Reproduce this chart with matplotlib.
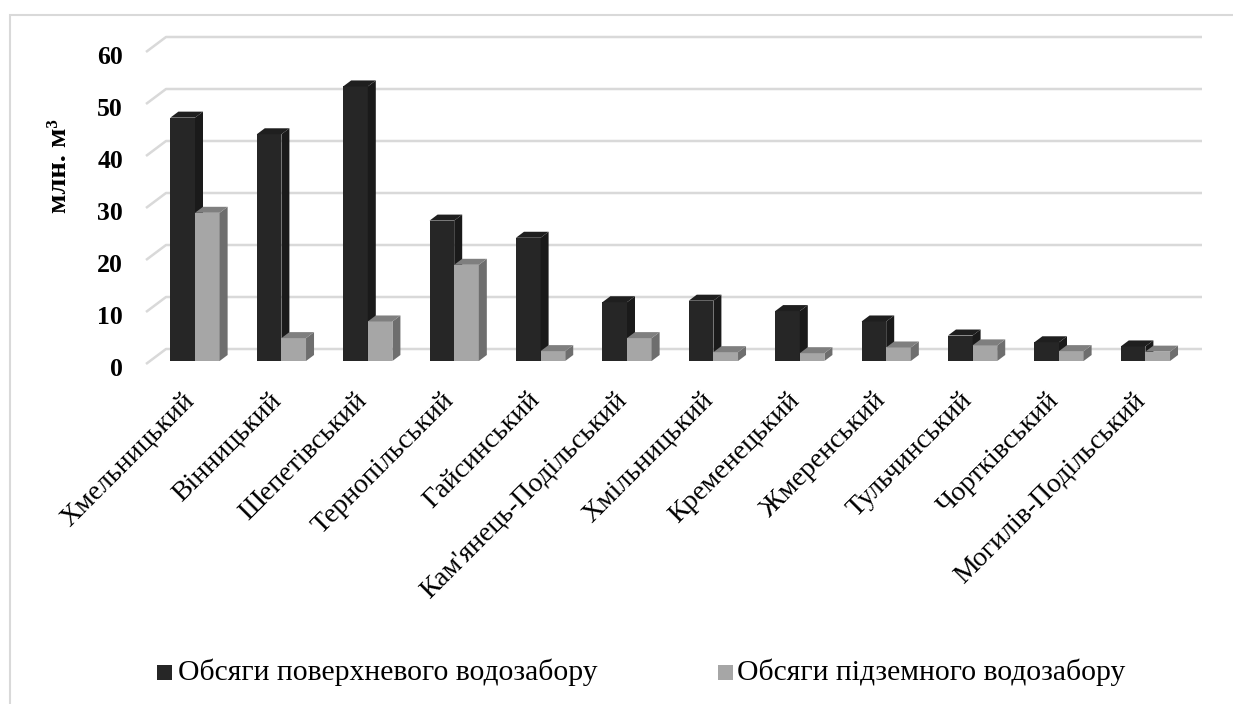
import matplotlib
matplotlib.use("Agg")
import matplotlib.pyplot as plt
from matplotlib.patches import Polygon, Rectangle

plt.rcParams['font.family'] = ['Liberation Serif', 'DejaVu Serif']

categories = ["Хмельницький", "Вінницький", "Шепетівський", "Тернопільський",
              "Гайсинський", "Кам'янець-Подільський", "Хмільницький", "Кременецький",
              "Жмеренський", "Тульчинський", "Чортківський", "Могилів-Подільський"]
surface = [46.8, 43.6, 52.8, 27.0, 23.7, 11.3, 11.6, 9.6, 7.6, 4.9, 3.6, 2.8]
ground = [28.5, 4.4, 7.6, 18.5, 1.9, 4.4, 1.7, 1.5, 2.6, 3.0, 1.9, 1.8]
series_names = ["Обсяги поверхневого водозабору", "Обсяги підземного водозабору"]
yticks = [0, 10, 20, 30, 40, 50, 60]
y_label = "млн. м³"

W, H = 1233, 704
fig = plt.figure(figsize=(W / 100, H / 100), dpi=100)

# pixel geometry
ax_l, ax_r, ax_t, ax_b = 147, 1205, 30, 380
cx0, cstep = 195, 86.4          # category centre pixel and spacing
zero_px, unit_px = 361, 5.2     # value 0 pixel and px per unit
ax = fig.add_axes([ax_l / W, 1 - ax_b / H, (ax_r - ax_l) / W, (ax_b - ax_t) / H])
ax.set_xlim((ax_l - cx0) / cstep, (ax_r - cx0) / cstep)
ax.set_ylim(-(ax_b - zero_px) / unit_px, (zero_px - ax_t) / unit_px)
ax.axis('off')

px = 1 / cstep
py = 1 / unit_px

# gridlines with 3D wall offset
grid_col = '#d9d9d9'
back_off = 12 * py
gdx, gdy = 20 * px, 15 * py
x_front = (146 - cx0) * px
x_end = (1202 - cx0) * px
for v in yticks:
    yb = v + back_off
    ax.plot([x_front, x_front + gdx, x_end], [yb - gdy, yb, yb], color=grid_col,
            lw=1.8, clip_on=False, zorder=1, solid_capstyle='butt')
    ax.text((123 - cx0) * px, v - 1.7, str(v), ha='right', va='center',
            fontsize=18.5, fontweight='bold', color='#000000')

w = 0.285
ddx, ddy = 8 * px, 6 * py
styles = [('#262626', '#1a1a1a', '#1f1f1f'), ('#a6a6a6', '#6e6e6e', '#7f7f7f')]
for s, (vals, off) in enumerate([(surface, -w), (ground, 0.0)]):
    front, side, top = styles[s]
    xs = [i + off for i in range(len(vals))]
    ax.bar(xs, vals, width=w, align='edge', color=front, edgecolor='none', zorder=3 + s)
    for x0, h in zip(xs, vals):
        x1 = x0 + w
        ax.add_patch(Polygon([(x1, 0), (x1 + ddx, ddy), (x1 + ddx, h + ddy), (x1, h)],
                             closed=True, facecolor=side, edgecolor='none', zorder=3 + s))
        ax.add_patch(Polygon([(x0, h), (x0 + ddx, h + ddy), (x1 + ddx, h + ddy), (x1, h)],
                             closed=True, facecolor=top, edgecolor='none', zorder=3 + s))

# category labels
for i, name in enumerate(categories):
    ax.text(i - 13 * px, -5.1, name, rotation=45, rotation_mode='anchor',
            ha='right', va='top', fontsize=20, color='#000000', clip_on=False)

# y label
fig.text(60 / W, 1 - 166 / H, y_label, rotation=90, ha='center', va='center',
         fontsize=20.5, fontweight='bold')

# legend
leg_cols = ['#262626', '#a6a6a6']
leg_sq_x = [157, 718]
leg_tx_x = [178, 737]
for c, sx, tx, name in zip(leg_cols, leg_sq_x, leg_tx_x, series_names):
    fig.add_artist(Rectangle((sx / W, 1 - 680 / H), 15 / W, 15 / H, transform=fig.transFigure,
                             facecolor=c, edgecolor='none'))
    fig.text(tx / W, 1 - 672 / H, name, ha='left', va='center', fontsize=21.3)

# outer frame
fig.add_artist(Rectangle((9.5 / W, -0.1), 1.2, 1 - 15.5 / H + 0.1, transform=fig.transFigure,
                         facecolor='none', edgecolor='#d9d9d9', lw=1.5, clip_on=False))

fig.savefig('out.png', dpi=100)
